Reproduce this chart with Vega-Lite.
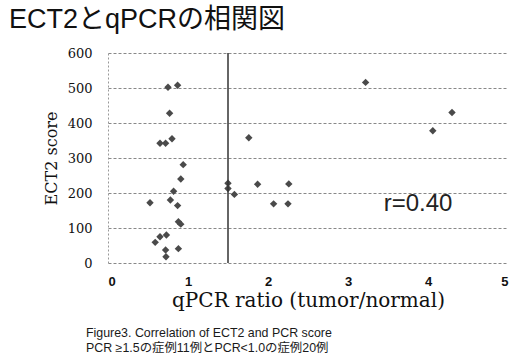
{
  "$schema": "https://vega.github.io/schema/vega-lite/v6.json",
  "width": 400,
  "height": 210,
  "autosize": {"type": "none"},
  "padding": {"left": 108, "top": 53, "right": 10, "bottom": 94},
  "background": "white",
  "title": {
    "text": "ECT2とqPCRの相関図",
    "anchor": "start",
    "frame": "group",
    "dx": -99,
    "offset": 13,
    "fontSize": 27,
    "font": "Liberation Sans, Noto Sans CJK JP",
    "fontWeight": "normal",
    "color": "#111"
  },
  "config": {
    "view": {"stroke": null},
    "axis": {"ticks": false},
    "axisX": {
      "grid": false,
      "domain": false,
      "labelFont": "Liberation Sans",
      "labelFontWeight": "bold",
      "labelFontSize": 13,
      "labelColor": "#111",
      "labelPadding": 12,
      "titleFont": "DejaVu Serif",
      "titleFontWeight": "normal",
      "titleFontSize": 20,
      "titleColor": "#111",
      "titlePadding": 2
    },
    "axisY": {
      "grid": true,
      "gridColor": "#888",
      "gridDash": [3, 2],
      "gridWidth": 1,
      "domain": true,
      "domainColor": "#999",
      "domainDash": [2, 2],
      "labelOverlap": false,
      "labelFont": "DejaVu Serif",
      "labelFontSize": 13,
      "labelColor": "#111",
      "labelPadding": 16,
      "titleFont": "DejaVu Serif",
      "titleFontWeight": "normal",
      "titleFontSize": 16,
      "titleColor": "#111",
      "titlePadding": 8
    }
  },
  "layer": [
    {
      "data": {
        "values": [
          {"ratio": 0.75, "score": 502}, {"ratio": 0.87, "score": 508}, {"ratio": 0.77, "score": 428},
          {"ratio": 0.80, "score": 355}, {"ratio": 0.65, "score": 342}, {"ratio": 0.72, "score": 342},
          {"ratio": 0.94, "score": 281}, {"ratio": 0.91, "score": 240}, {"ratio": 0.82, "score": 205},
          {"ratio": 0.525, "score": 172}, {"ratio": 0.78, "score": 180}, {"ratio": 0.87, "score": 164},
          {"ratio": 0.88, "score": 118}, {"ratio": 0.91, "score": 111}, {"ratio": 0.73, "score": 80},
          {"ratio": 0.65, "score": 75}, {"ratio": 0.59, "score": 59}, {"ratio": 0.72, "score": 37},
          {"ratio": 0.88, "score": 41}, {"ratio": 0.725, "score": 18},
          {"ratio": 1.5, "score": 228}, {"ratio": 1.5, "score": 213}, {"ratio": 1.58, "score": 196},
          {"ratio": 1.76, "score": 358}, {"ratio": 1.87, "score": 225}, {"ratio": 2.26, "score": 226},
          {"ratio": 2.07, "score": 169}, {"ratio": 2.25, "score": 169}, {"ratio": 3.22, "score": 516},
          {"ratio": 4.06, "score": 378}, {"ratio": 4.30, "score": 430}
        ]
      },
      "mark": {"type": "point", "shape": "diamond", "filled": true, "size": 55, "color": "#4a4a4a", "opacity": 1},
      "encoding": {
        "x": {
          "field": "ratio", "type": "quantitative",
          "scale": {"domain": [0, 5], "nice": false},
          "axis": {"values": [0, 1, 2, 3, 4, 5], "format": "d", "title": "qPCR ratio (tumor/normal)"}
        },
        "y": {
          "field": "score", "type": "quantitative",
          "scale": {"domain": [0, 600], "nice": false},
          "axis": {"values": [0, 100, 200, 300, 400, 500, 600], "format": "d", "title": "ECT2 score"}
        }
      }
    },
    {
      "data": {"values": [{}]},
      "mark": {"type": "rule", "color": "#333", "strokeWidth": 1.5},
      "encoding": {
        "x": {"datum": 1.5, "type": "quantitative", "axis": {"values": [0, 1, 2, 3, 4, 5], "format": "d", "title": "qPCR ratio (tumor/normal)"}}
      }
    },
    {
      "data": {"values": [{}]},
      "mark": {"type": "text", "text": "r=0.40", "font": "Liberation Sans", "fontSize": 24, "color": "#222", "align": "center", "baseline": "middle"},
      "encoding": {
        "x": {"datum": 3.875, "type": "quantitative", "axis": {"values": [0, 1, 2, 3, 4, 5], "format": "d", "title": "qPCR ratio (tumor/normal)"}},
        "y": {"datum": 169, "type": "quantitative", "axis": {"values": [0, 100, 200, 300, 400, 500, 600], "format": "d", "title": "ECT2 score"}}
      }
    },
    {
      "data": {"values": [{}]},
      "mark": {
        "type": "text",
        "text": ["Figure3. Correlation of ECT2 and PCR score", "PCR ≥1.5の症例11例とPCR<1.0の症例20例"],
        "font": "Liberation Sans, Noto Sans CJK JP",
        "fontSize": 12.4,
        "lineHeight": 15,
        "color": "#1a1a1a",
        "align": "left",
        "baseline": "alphabetic"
      },
      "encoding": {
        "x": {"datum": -0.275, "type": "quantitative", "axis": {"values": [0, 1, 2, 3, 4, 5], "format": "d", "title": "qPCR ratio (tumor/normal)"}},
        "y": {"datum": -211, "type": "quantitative", "axis": {"values": [0, 100, 200, 300, 400, 500, 600], "format": "d", "title": "ECT2 score"}}
      }
    }
  ]
}
